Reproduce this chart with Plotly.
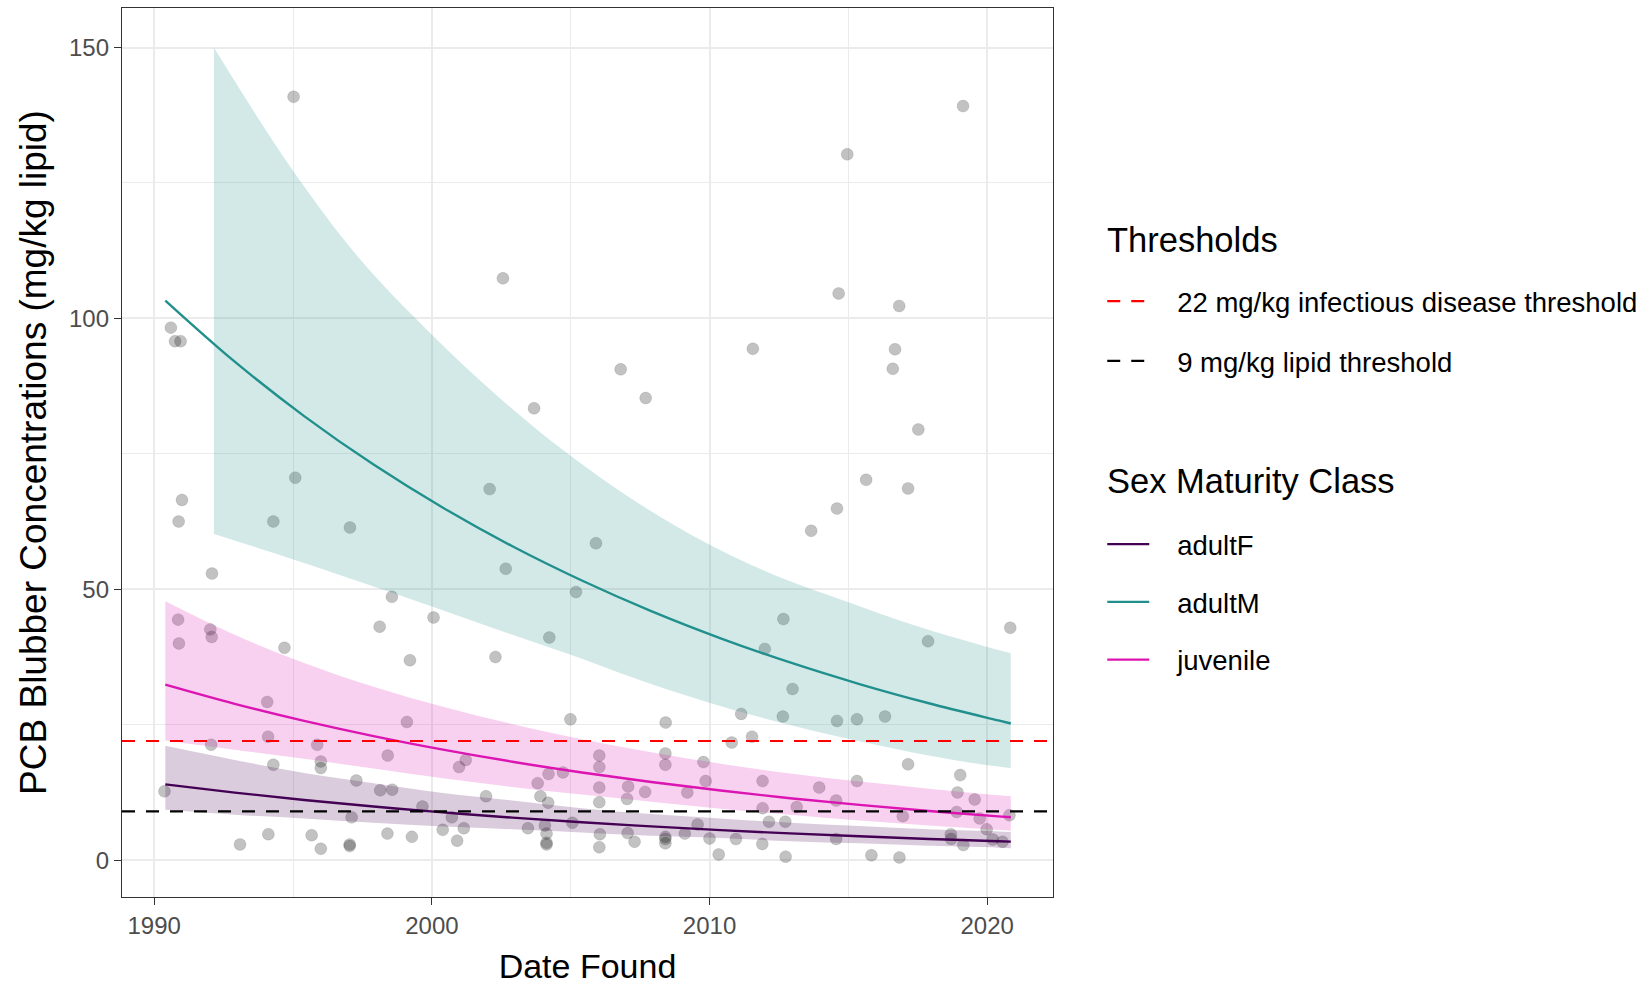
import plotly.graph_objects as go

# ---------------- data ----------------
PT_YEAR = [
    1995.02, 2002.56, 2003.68, 1990.60, 1990.75, 1990.95,
    2019.13, 2014.96, 2014.65, 2016.83, 2011.56, 2006.80, 2007.70, 2016.68, 2016.60, 2017.52,
    1991.00, 1990.88, 1995.08, 1994.29, 1997.05, 1992.08, 2002.08, 2002.66, 1998.56, 2000.06,
    1998.12, 2004.23, 1999.21, 2002.29, 1994.69, 1990.86, 1990.89, 1992.02, 1992.07,
    2005.91, 2005.19, 2012.66, 2011.99, 2012.99, 2017.87, 2013.66, 2014.59, 2015.64, 2017.15, 2020.83,
    1994.07, 1999.10, 2004.99, 2008.42, 2011.14, 2012.64, 2014.59, 2015.31, 2016.32,
    1994.10, 1992.05, 1995.87, 2011.53, 2010.80,
    1994.29, 1996.00, 1996.00, 1998.41, 2000.98, 2001.22, 2004.20, 2004.72, 2006.03, 2006.03,
    2008.41, 2008.41, 2009.78, 2017.15, 2019.03,
    1990.37, 1997.28, 1998.14, 1998.57, 1999.66, 2001.95, 2003.81, 2003.91, 2004.19, 2006.03,
    2007.07, 2007.68, 2009.20, 2009.86, 2011.91, 2013.95, 2015.31, 2014.56, 2006.03, 2007.03,
    2018.93, 2019.55,
    1997.11, 2000.72, 2000.39, 2001.15, 2003.46, 2004.07, 2005.06, 2011.91, 2013.14, 2012.14,
    2012.73, 2009.57, 2018.90, 2016.96, 2019.73, 2019.98, 2020.80, 2007.05,
    1993.09, 1994.11, 1995.67, 1996.00, 1997.04, 1997.04, 1998.40, 1999.28, 2000.91, 2004.13,
    2004.13, 2004.13, 2006.05, 2006.03, 2007.30, 2008.41, 2008.41, 2008.41, 2009.11, 2010.00,
    2010.95, 2011.90, 2010.33, 2012.74, 2014.56, 2015.83, 2016.84, 2018.69, 2018.70, 2019.14,
    2020.20, 2020.55,
]
PT_PCB = [
    140.9, 107.4, 83.4, 98.3, 95.8, 95.8,
    139.2, 130.3, 104.6, 102.3, 94.4, 90.6, 85.3, 94.3, 90.7, 79.5,
    66.5, 62.5, 70.6, 62.5, 61.4, 52.9, 68.5, 53.8, 48.6, 44.8,
    43.1, 41.1, 36.9, 37.5, 39.2, 44.4, 40.0, 42.6, 41.2,
    58.5, 49.5, 44.5, 39.0, 31.6, 40.4, 60.8, 64.9, 70.2, 68.6, 42.9,
    29.2, 25.5, 26.0, 25.4, 27.0, 26.5, 25.7, 26.0, 26.5,
    22.8, 21.3, 21.3, 22.8, 21.7,
    17.6, 18.2, 17.0, 19.3, 17.2, 18.5, 15.9, 16.2, 19.3, 17.2,
    19.7, 17.6, 18.1, 17.7, 15.7,
    12.7, 14.7, 12.9, 13.0, 9.9, 11.8, 14.2, 11.8, 10.6, 13.4,
    13.6, 12.6, 12.5, 14.6, 14.6, 13.4, 14.6, 11.0, 10.7, 11.3,
    12.5, 11.2,
    7.9, 7.9, 5.6, 5.9, 5.9, 6.4, 6.9, 9.6, 9.8, 7.1,
    7.1, 6.6, 8.9, 8.1, 7.7, 5.7, 8.3, 5.0,
    2.9, 4.8, 4.6, 2.1, 2.6, 2.9, 4.9, 4.3, 3.6, 3.2,
    2.9, 4.9, 4.8, 2.4, 3.4, 4.3, 3.9, 3.1, 4.9, 4.0,
    3.9, 3.0, 1.05, 0.65, 3.9, 0.9, 0.5, 4.8, 3.9, 2.8,
    3.8, 3.4,
]

CLASSES = ["adultF", "adultM", "juvenile"]

# fitted curves and confidence bands
FIT_YEAR = [1990.4, 1992.9, 1995.4, 1997.9, 2000.4, 2002.9, 2005.4,
            2007.9, 2010.4, 2012.9, 2015.4, 2017.9, 2020.4, 2020.85]
FIT_F = [14.0, 12.47, 11.11, 9.90, 8.82, 7.85, 7.00, 6.23, 5.55, 4.94, 4.41, 3.92, 3.50, 3.42]
FIT_F_HI = [21.1, 18.5, 16.1, 14.2, 12.4, 11.0, 9.6, 8.5, 7.7, 6.9, 6.3, 5.7, 5.3, 5.2]
FIT_F_LO = [9.3, 8.4, 7.7, 6.9, 6.2, 5.7, 5.1, 4.5, 4.1, 3.5, 3.1, 2.65, 2.3, 2.2]
FIT_J = [32.4, 28.86, 25.71, 22.90, 20.40, 18.17, 16.19, 14.42, 12.85, 11.44, 10.20, 9.08, 8.09, 7.91]
FIT_J_HI = [47.8, 41.6, 36.4, 32.0, 28.3, 25.1, 22.3, 19.9, 17.8, 16.0, 14.5, 13.2, 12.0, 11.8]
FIT_J_LO = [22.1, 20.4, 18.7, 16.9, 15.1, 13.5, 12.1, 10.8, 9.5, 8.4, 7.3, 6.4, 5.6, 5.45]
FIT_M = [103.3, 92.02, 81.97, 73.02, 65.05, 57.94, 51.62, 45.98, 40.96, 36.49, 32.51, 28.96, 25.79, 25.23]
BAND_M_YEAR = [1992.15, 1994.9, 1997.4, 1999.9, 2002.4, 2004.9, 2007.4,
               2009.9, 2012.4, 2014.9, 2017.4, 2019.9, 2020.85]
BAND_M_HI = [150.0, 128.0, 111.0, 97.5, 85.5, 75.0, 66.0, 58.5, 52.5, 47.8, 43.3, 39.5, 38.2]
BAND_M_LO = [60.2, 55.7, 51.4, 47.0, 42.5, 38.1, 33.4, 29.2, 25.6, 22.5, 19.8, 17.6, 17.0]

THRESH_VALUES = [22, 9]
THRESH_NAMES = ["22 mg/kg infectious disease threshold", "9 mg/kg lipid threshold"]

X_TICKS = [1990, 2000, 2010, 2020]
X_MINOR = [1995, 2005, 2015]
Y_TICKS = [0, 50, 100, 150]
Y_MINOR = [25, 75, 125]

# ---------------- styling ----------------
COLORS = {"adultF": "#440154", "adultM": "#21908C", "juvenile": "#DB14B2"}
FILLS = {"adultF": "rgba(68,1,84,0.2)", "adultM": "rgba(33,144,140,0.2)",
         "juvenile": "rgba(219,20,178,0.2)"}
THRESH_COLORS = ["#FF0000", "#000000"]
FONT = "Liberation Sans, Arial, Helvetica, sans-serif"
NB = "\u00a0\u00a0\u00a0"

fits = {
    "adultF": (FIT_YEAR, FIT_F, FIT_YEAR, FIT_F_LO, FIT_F_HI),
    "adultM": (FIT_YEAR, FIT_M, BAND_M_YEAR, BAND_M_LO, BAND_M_HI),
    "juvenile": (FIT_YEAR, FIT_J, FIT_YEAR, FIT_J_LO, FIT_J_HI),
}

fig = go.Figure()

fig.add_trace(go.Scatter(
    x=PT_YEAR, y=PT_PCB, mode="markers", showlegend=False, hoverinfo="skip",
    marker=dict(size=12, color="rgba(0,0,0,0.24)",
                line=dict(width=1, color="rgba(0,0,0,0.10)")),
))

for cls in CLASSES:
    fx, fy, bx, blo, bhi = fits[cls]
    fig.add_trace(go.Scatter(
        x=bx, y=blo, mode="lines", line=dict(width=0, shape="spline"),
        showlegend=False, hoverinfo="skip"))
    fig.add_trace(go.Scatter(
        x=bx, y=bhi, mode="lines", line=dict(width=0, shape="spline"),
        fill="tonexty", fillcolor=FILLS[cls], showlegend=False, hoverinfo="skip"))

for cls in CLASSES:
    fx, fy, bx, blo, bhi = fits[cls]
    fig.add_trace(go.Scatter(
        x=fx, y=fy, mode="lines", name=NB + cls,
        line=dict(color=COLORS[cls], width=2.4, shape="spline"),
        legend="legend2", legendgroup="c_" + cls))

for val, name, col in zip(THRESH_VALUES, THRESH_NAMES, THRESH_COLORS):
    fig.add_shape(
        type="line", xref="x domain", x0=0, x1=1, yref="y", y0=val, y1=val,
        line=dict(color=col, width=2.2, dash="13px,11px"), layer="above",
        showlegend=True, name=NB + name, legend="legend", legendgroup="t_" + name)

axis_common = dict(
    showgrid=True, gridcolor="#EBEBEB", gridwidth=2.2,
    ticks="outside", ticklen=7, tickwidth=1.3, tickcolor="#333333",
    tickfont=dict(size=24, color="#4D4D4D", family=FONT),
    showline=True, mirror=True, linecolor="#333333", linewidth=1.3,
    zeroline=False,
)

fig.update_xaxes(
    range=[1988.84, 2022.37], tickmode="array", tickvals=X_TICKS,
    minor=dict(tickmode="array", tickvals=X_MINOR, showgrid=True,
               gridcolor="#EBEBEB", gridwidth=1.1, ticks=""),
    title=dict(text="Date Found", font=dict(size=34, color="black", family=FONT), standoff=16),
    **axis_common)
fig.update_yaxes(
    range=[-6.8, 157.3], tickmode="array", tickvals=Y_TICKS,
    minor=dict(tickmode="array", tickvals=Y_MINOR, showgrid=True,
               gridcolor="#EBEBEB", gridwidth=1.1, ticks=""),
    title=dict(text="PCB Blubber Concentrations (mg/kg lipid)",
               font=dict(size=37, color="black", family=FONT), standoff=11),
    **axis_common)

legend_common = dict(
    xanchor="left", yanchor="top", font=dict(size=27.5, color="black", family=FONT),
    itemwidth=42, bgcolor="rgba(0,0,0,0)", borderwidth=0,
)
fig.update_layout(
    width=1651, height=987,
    plot_bgcolor="white", paper_bgcolor="white",
    margin=dict(l=122, r=580, t=8, b=90),
    font=dict(family=FONT),
    legend=dict(x=1.0529, y=0.6977, tracegroupgap=21, **legend_common),
    legend2=dict(x=1.0529, y=0.4243, tracegroupgap=19, **legend_common),
    annotations=[
        dict(text="Thresholds", xref="paper", yref="paper", x=1.0557, y=0.739,
             xanchor="left", yanchor="middle", showarrow=False,
             font=dict(size=34.5, color="black", family=FONT)),
        dict(text="Sex Maturity Class", xref="paper", yref="paper", x=1.0557, y=0.468,
             xanchor="left", yanchor="middle", showarrow=False,
             font=dict(size=34.5, color="black", family=FONT)),
    ],
)

fig.write_html("out.html", config={"displayModeBar": False},
               post_script="document.body.style.margin='0px';document.body.style.overflow='hidden';")
